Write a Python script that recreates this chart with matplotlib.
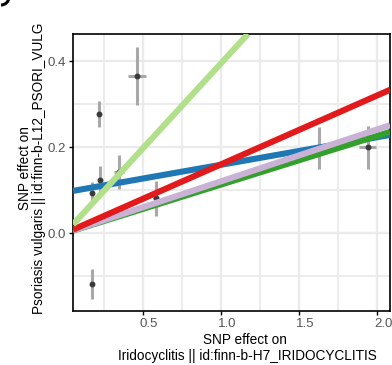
import matplotlib
matplotlib.use("Agg")
import matplotlib.pyplot as plt
import matplotlib.transforms as mtransforms
from matplotlib.patches import Arc

plt.rcParams['font.family'] = ['Liberation Sans', 'DejaVu Sans']

# SNP effects (exposure on x, outcome on y) with standard errors
snp_x = [0.173, 0.224, 0.346, 0.583, 0.173, 0.218, 0.462, 1.63, 1.94]
snp_y = [0.093, 0.123, 0.142, 0.081, -0.119, 0.277, 0.365, 0.198, 0.200]
snp_xerr = [0.012, 0.010, 0.030, 0.020, 0.015, 0.015, 0.060, 0.010, 0.055]
snp_yerr = [0.027, 0.033, 0.040, 0.041, 0.035, 0.030, 0.068, 0.048, 0.050]

# MR method fits (drawn in this order)
methods = ["MR Egger", "Weighted median", "Weighted mode", "Inverse variance weighted", "Simple mode"]
slopes = [0.064, 0.113, 0.1205, 0.160, 0.395]
intercepts = [0.095, 0.0, 0.0, 0.0, 0.0]
colors = ["#1F78B4", "#33A02C", "#CAB2D6", "#E31A1C", "#B2DF8A"]

xticks = [0.5, 1.0, 1.5, 2.0]
yticks = [0.0, 0.2, 0.4]

W, H = 392, 365
fig = plt.figure(figsize=(W / 100, H / 100), dpi=100)
ax = fig.add_axes([73 / W, 1 - 311 / H, (390 - 73) / W, (311 - 34) / H])

xlim = (0.051, 2.083)
ylim = (-0.181, 0.463)

# grid
for v in [0.25, 0.75, 1.25, 1.75]:
    ax.axvline(v, color="#EBEBEB", lw=1.3, zorder=0)
for v in xticks:
    ax.axvline(v, color="#EBEBEB", lw=1.7, zorder=0)
for v in [-0.1, 0.1, 0.3]:
    ax.axhline(v, color="#EBEBEB", lw=1.3, zorder=0)
for v in yticks:
    ax.axhline(v, color="#EBEBEB", lw=1.7, zorder=0)

ax.errorbar(snp_x, snp_y, xerr=snp_xerr, yerr=snp_yerr, fmt="none",
            ecolor="#A8A8A8", elinewidth=2.2, capsize=0, zorder=2)
ax.scatter(snp_x, snp_y, s=18, color="#3A3A3A", zorder=3, linewidths=0)

for name, m, b, c in zip(methods, slopes, intercepts, colors):
    ax.axline((0, b), slope=m, color=c, lw=4.4, zorder=4, label=name,
              solid_capstyle="butt")

ax.set_xlim(*xlim)
ax.set_ylim(*ylim)
ax.set_xticks(xticks)
ax.set_xticklabels(["0.5", "1.0", "1.5", "2.0"])
ax.set_yticks(yticks)
ax.set_yticklabels(["0.0", "0.2", "0.4"])
ax.tick_params(axis="both", length=3, width=1, color="black", labelsize=9.5,
               labelcolor="#555555", pad=2)
for lab in ax.get_xticklabels():
    lab.set_transform(lab.get_transform() + mtransforms.ScaledTranslation(6 / 100, 0, fig.dpi_scale_trans))

for s in ax.spines.values():
    s.set_color("black")
    s.set_linewidth(1.2)

# axis titles
fig.text(245 / W, 1 - 340 / H, "SNP effect on", ha="center", va="center",
         fontsize=9.8, color="black")
fig.text(247 / W, 1 - 356 / H, "Iridocyclitis || id:finn-b-H7_IRIDOCYCLITIS",
         ha="center", va="center", fontsize=9.8, color="black")
fig.text(25 / W, 1 - 168 / H, "SNP effect on", ha="center", va="center",
         rotation=90, fontsize=9.8, color="black")
fig.text(39 / W, 1 - 168 / H, "Psoriasis vulgaris || id:finn-b-L12_PSORI_VULG",
         ha="center", va="center", rotation=90, fontsize=9.8, color="black")

# fragment of the cropped panel letter in the top-left corner
fig.add_artist(Arc((1, H + 3), 16, 16, theta1=270, theta2=360,
                   transform=None, color="black", lw=2.2))

fig.savefig("out.png", dpi=100)
